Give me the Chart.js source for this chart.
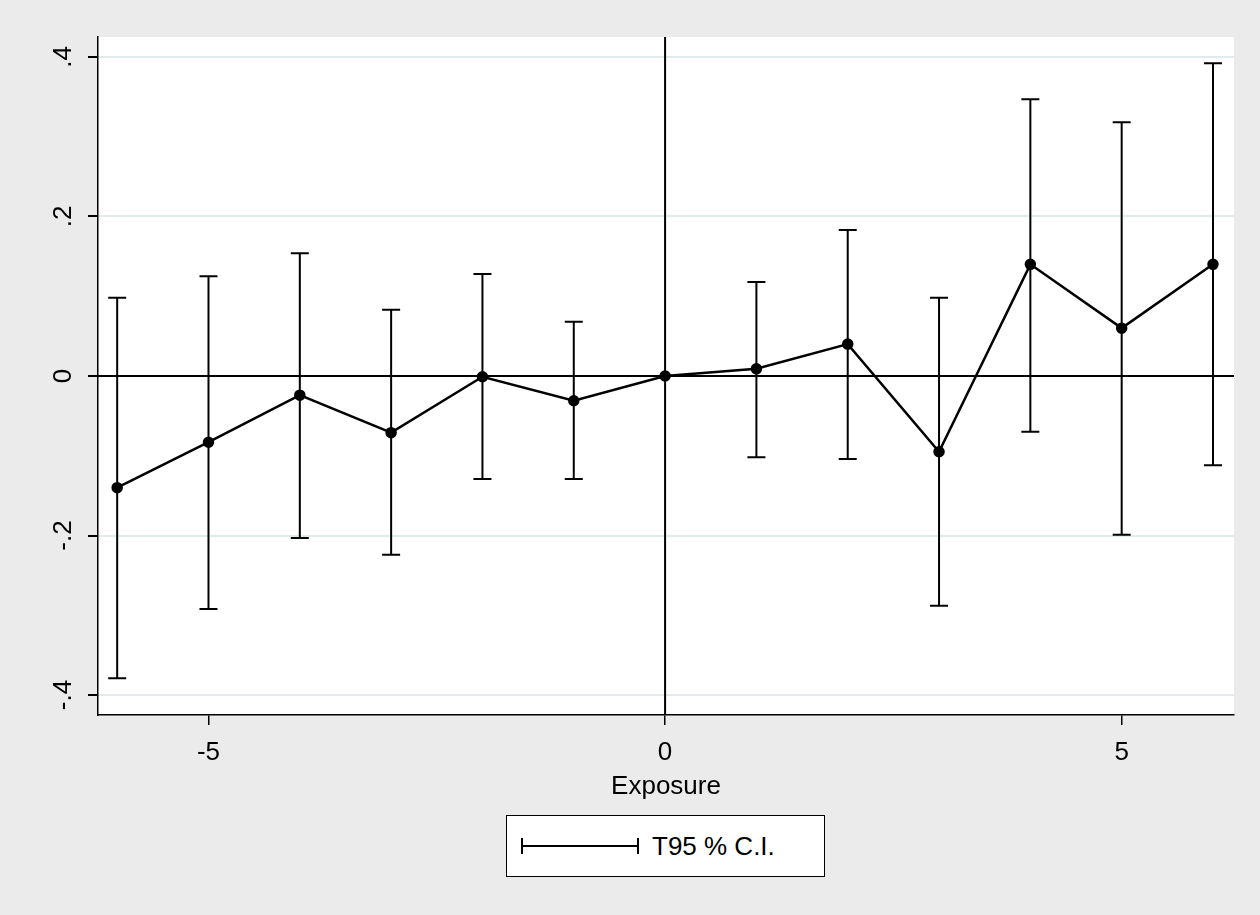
<!DOCTYPE html>
<html>
<head>
<meta charset="utf-8">
<script src="https://cdn.jsdelivr.net/npm/chart.js@4"></script>
<style>
body{margin:0;background:#ebebeb;font-family:"Liberation Sans",Arial,sans-serif;}
#wrap{position:relative;width:1260px;height:915px;}
#legend{position:absolute;left:506px;top:815px;width:319px;height:62px;background:#fff;border:1.5px solid #000;box-sizing:border-box;}
#legend .ln{position:absolute;left:14px;top:29px;width:118px;height:2px;background:#000;}
#legend .c1,#legend .c2{position:absolute;top:22px;width:2px;height:16px;background:#000;}
#legend .c1{left:14px}#legend .c2{left:130px}
#legend span{position:absolute;left:145px;top:15px;font-size:26px;}
</style>
</head>
<body>
<div id="wrap">
<canvas id="c" width="1260" height="915"></canvas>
<div id="legend"><div class="ln"></div><div class="c1"></div><div class="c2"></div><span>T95 % C.I.</span></div>
</div>
<script>
const exposure = [-6,-5,-4,-3,-2,-1,0,1,2,3,4,5,6];
const estimate = [-0.140,-0.083,-0.024,-0.071,-0.001,-0.031,0,0.009,0.040,-0.095,0.140,0.060,0.140];
const ciHigh = [0.098,0.125,0.154,0.083,0.128,0.068,null,0.118,0.183,0.098,0.347,0.318,0.392];
const ciLow = [-0.379,-0.292,-0.203,-0.224,-0.129,-0.129,null,-0.102,-0.104,-0.288,-0.070,-0.199,-0.112];
const xTicks = [-5,0,5];
const yTicks = [-0.4,-0.2,0,0.2,0.4];
const yLabels = ['-.4','-.2','0','.2','.4'];

const ctx = document.getElementById('c');
const stataPlugin = {
  id:'stata',
  beforeDraw(chart){
    const a = chart.chartArea, g = chart.ctx;
    g.save(); g.fillStyle='#fff'; g.fillRect(a.left,a.top,a.right-a.left,a.bottom-a.top); g.restore();
  },
  beforeDatasetsDraw(chart){
    const a = chart.chartArea, g = chart.ctx, xs = chart.scales.x, ys = chart.scales.y;
    g.save();
    g.strokeStyle='#000'; g.lineWidth=2;
    const x0 = xs.getPixelForValue(0), y0 = ys.getPixelForValue(0);
    g.beginPath(); g.moveTo(x0,a.top); g.lineTo(x0,a.bottom);
    g.moveTo(a.left,y0); g.lineTo(a.right,y0); g.stroke();
    // error bars
    exposure.forEach((e,i)=>{
      if(ciHigh[i]===null) return;
      const px = xs.getPixelForValue(e), ph = ys.getPixelForValue(ciHigh[i]), pl = ys.getPixelForValue(ciLow[i]);
      g.beginPath(); g.moveTo(px,ph); g.lineTo(px,pl);
      g.moveTo(px-9,ph); g.lineTo(px+9,ph);
      g.moveTo(px-9,pl); g.lineTo(px+9,pl); g.stroke();
    });
    // y labels rotated
    g.fillStyle='#000'; g.font='26px "Liberation Sans", Arial, sans-serif';
    g.textAlign='center'; g.textBaseline='middle';
    yTicks.forEach((v,i)=>{
      const py = ys.getPixelForValue(v);
      g.save(); g.translate(64,py); g.rotate(-Math.PI/2); g.fillText(yLabels[i],0,0); g.restore();
    });
    g.restore();
  }
};

new Chart(ctx,{
  type:'line',
  data:{labels:exposure,datasets:[{
    data:exposure.map((e,i)=>({x:e,y:estimate[i]})),
    borderColor:'#000',borderWidth:2.5,pointRadius:4.5,pointBackgroundColor:'#000',pointBorderColor:'#000',tension:0
  }]},
  options:{
    responsive:false,animation:false,
    layout:{padding:{top:37,right:26,left:0,bottom:113}},
    plugins:{legend:{display:false},tooltip:{enabled:false}},
    scales:{
      x:{type:'linear',min:-6.21,max:6.23,
        afterBuildTicks(s){s.ticks=xTicks.map(v=>({value:v}));},
        afterFit(s){s.height=87;},
        grid:{display:true,drawOnChartArea:false,drawTicks:true,tickLength:10,tickColor:'#000',lineWidth:1.5},
        border:{color:'#000',width:1.5},
        ticks:{color:'#000',font:{size:26,family:'"Liberation Sans", Arial'},padding:12,maxRotation:0,callback:v=>String(v)},
        title:{display:true,text:'Exposure',color:'#000',font:{size:26,family:'"Liberation Sans", Arial'},padding:{top:0,bottom:0}}
      },
      y:{type:'linear',min:-0.425,max:0.425,
        afterBuildTicks(s){s.ticks=yTicks.map(v=>({value:v}));},
        afterFit(s){s.width=98;},
        grid:{color:'#e2ebeb',lineWidth:2,tickLength:10,tickColor:'#000'},
        border:{color:'#000',width:1.5},
        ticks:{display:false}
      }
    }
  },
  plugins:[stataPlugin]
});
</script>
</body>
</html>
